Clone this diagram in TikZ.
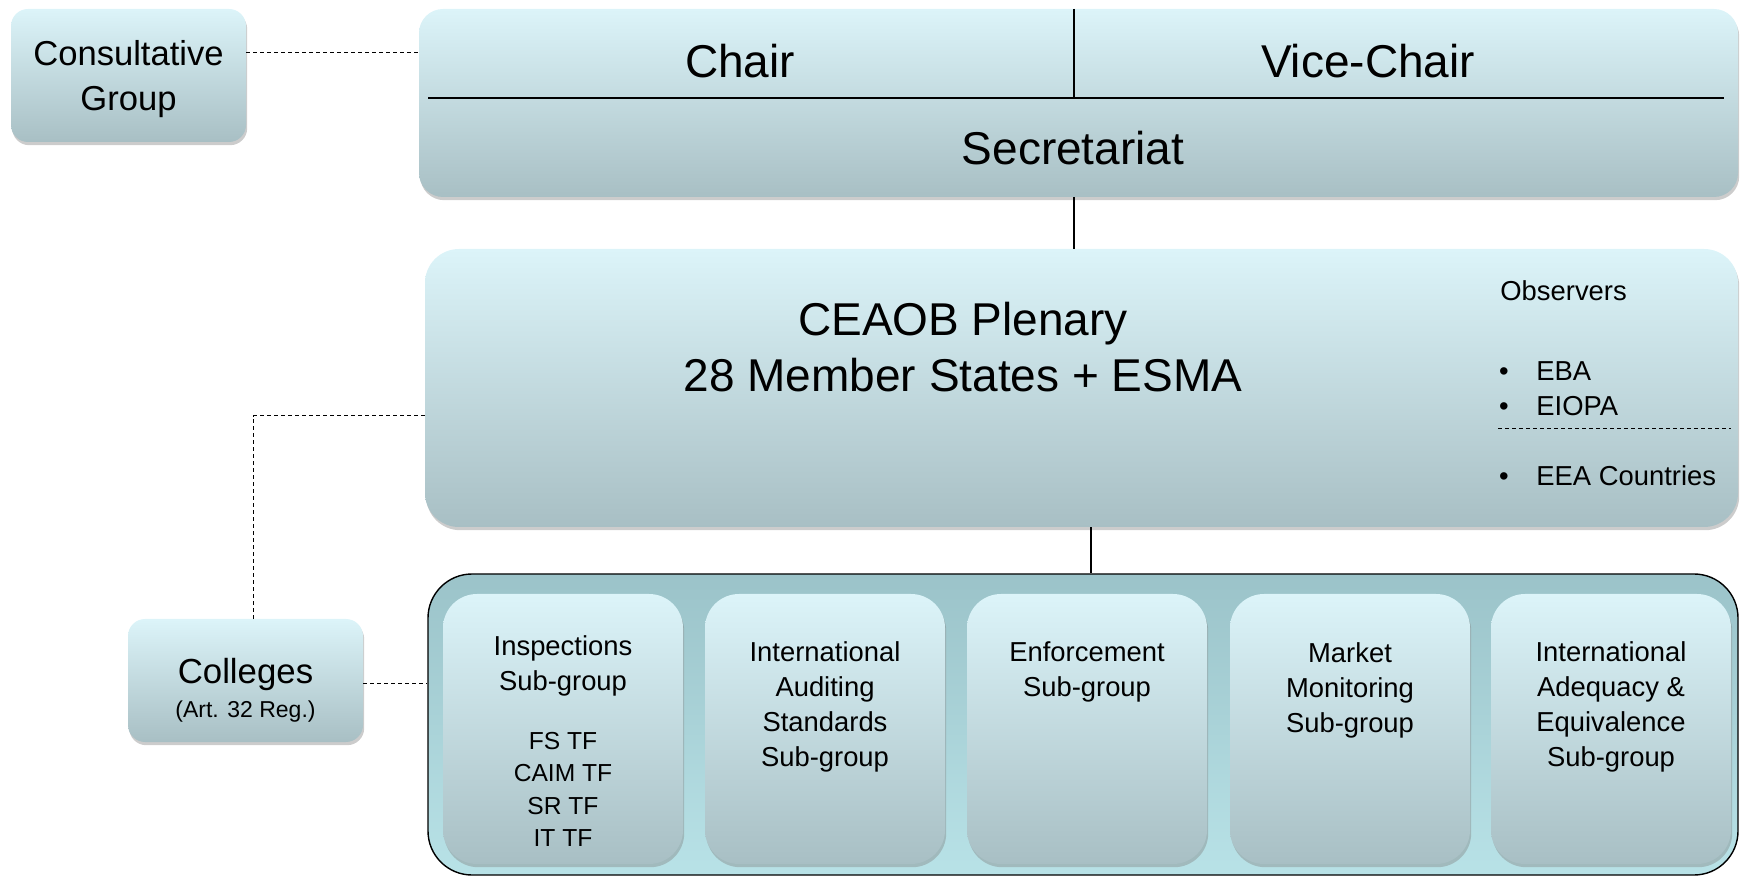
\documentclass[tikz,border=0pt]{standalone}
\usepackage{fontspec}
\setmainfont{Liberation Sans}
\usetikzlibrary{shadows}
\definecolor{boxtop}{HTML}{DCF4F9}
\definecolor{boxbot}{HTML}{A8BFC4}
\definecolor{contop}{HTML}{9BC3C9}
\definecolor{conbot}{HTML}{B8E2E7}
\newcommand\setfs[2]{\fontsize{#1}{#2}\selectfont}
\tikzset{
  box/.style={rounded corners=#1, top color=boxtop, bottom color=boxbot, draw=none,
    drop shadow={shadow xshift=0.6pt, shadow yshift=-1.6pt, opacity=0.4}, inner sep=0pt},
  subbox/.style={box=17pt, minimum width=120pt, minimum height=135pt},
  txt/.style={inner sep=0pt, align=center, text=black},
  big/.style={txt, font=\setfs{23}{28.3}},
  mid/.style={txt, font=\setfs{17.3}{22.7}},
  small/.style={txt, font=\setfs{13.7}{17.5}},
  dline/.style={draw=black, line width=0.5pt, dash pattern=on 2pt off 1.5pt},
  conn/.style={draw=black, line width=0.6pt},
}
\begin{document}
\begin{tikzpicture}[x=0.5pt,y=-0.5pt]
\useasboundingbox (0,0) rectangle (1740,876);
% coordinates for connector routes
\coordinate (l1) at (0,53);
\coordinate (v1) at (1074,0);
\coordinate (l2) at (253,416);
\coordinate (l3) at (0,683);
\coordinate (v2) at (1091,0);
% consultative group
\node[box=8.5pt, minimum width=117.5pt, minimum height=66.5pt] (cg) at (128.5,75.5) {};
\node[mid] (cgt) at (128.5,79) {Consultative\\Group};
% top box
\node[box=12pt, minimum width=659.5pt, minimum height=94pt] (top) at (1078.5,103) {};
\coordinate (dv1) at (1074,9);
\coordinate (dv2) at (1074,98);
\coordinate (dh1) at (428,98);
\coordinate (dh2) at (1724,98);
\draw[line width=1.1pt] (dv1) -- (dv2);
\draw[line width=1.1pt] (dh1) -- (dh2);
\node[big] (chair) at (740,61) {Chair};
\node[big] (vice) at (1368,61) {Vice-Chair};
\node[big] (secr) at (1073,148) {Secretariat};
% plenary
\node[box=17pt, minimum width=656.5pt, minimum height=139pt] (plen) at (1081.5,388) {};
\node[big] (plent) at (963,347) {CEAOB Plenary\\28 Member States + ESMA};
\node[small, anchor=west] (obs) at (1500,291) {Observers};
\node[small, anchor=base] (b1) at (1504,381) {•};
\node[small, anchor=base west] (eba) at (1536,381) {EBA};
\node[small, anchor=base] (b2) at (1504,416) {•};
\node[small, anchor=base west] (eiopa) at (1536,416) {EIOPA};
\coordinate (od1) at (1498,429);
\coordinate (od2) at (1731,429);
\draw[dline] (od1) -- (od2);
\node[small, anchor=base] (b3) at (1504,486) {•};
\node[small, anchor=base west] (eea) at (1536,486) {EEA Countries};
% colleges
\node[box=8.5pt, minimum width=117.5pt, minimum height=61.5pt] (col) at (245.5,680.5) {};
\node[txt, font=\setfs{17.4}{20}] (colt) at (245.5,674.5) {Colleges};
\node[txt, font=\setfs{11.5}{14}] (colart) at (245.5,712) {(Art. 32 Reg.)};
% container
\node[draw=black, line width=0.7pt, rounded corners=22pt, top color=contop, bottom color=conbot,
  minimum width=655pt, minimum height=150.5pt, inner sep=0pt] (cont) at (1083,724.5) {};
% sub-groups
\node[subbox] (s1) at (563,729) {};
\node[subbox] (s2) at (825,729) {};
\node[subbox] (s3) at (1087,729) {};
\node[subbox] (s4) at (1350,729) {};
\node[subbox] (s5) at (1611,729) {};
\node[small] (s1t) at (563,666) {Inspections\\Sub-group};
\node[txt, font=\setfs{12.3}{16.2}] (s1tf) at (563,789.5) {FS TF\\CAIM TF\\SR TF\\IT TF};
\node[small] (s2t) at (825,707) {International\\Auditing\\Standards\\Sub-group};
\node[small] (s3t) at (1087,672) {Enforcement\\Sub-group};
\node[small] (s4t) at (1350,690) {Market\\Monitoring\\Sub-group};
\node[small] (s5t) at (1611,707) {International\\Adequacy \&\\Equivalence\\Sub-group};
% connectors
\draw[dline] (cg.east |- l1) -- (top.west |- l1);
\draw[conn] (top.south -| v1) -- (plen.north -| v1);
\draw[dline] (plen.west |- l2) -- (l2) -- (col.north -| l2);
\draw[dline] (col.east |- l3) -- (cont.west |- l3);
\draw[conn] (plen.south -| v2) -- (cont.north -| v2);
\end{tikzpicture}
\end{document}
